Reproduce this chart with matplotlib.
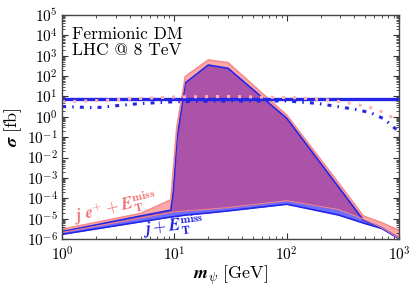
import numpy as np
import matplotlib
matplotlib.use("Agg")
import matplotlib.pyplot as plt
from matplotlib.ticker import FuncFormatter, LogLocator, NullFormatter

plt.rcParams["mathtext.fontset"] = "cm"
plt.rcParams["font.family"] = "cmr10"
plt.rcParams["axes.unicode_minus"] = False

# DM mass grid [GeV]
mass = [1, 5, 9.28, 9.8, 10.5, 12.5, 20, 30, 100, 290, 480, 700, 1000]

# j e+ + MET band [fb]
sig_e_hi = [3e-6, 1.8e-5, 8.3e-5, 3e-3, 0.3, 95, 620, 455, 1.2, 5.5e-4, 1.35e-5, 6.3e-6, 2.6e-6]
sig_e_lo = [2.1e-6, 1.07e-5, 2e-5, 2.1e-5, 2.2e-5, 2.4e-5, 2.9e-5, 3.5e-5, 7.6e-5, 2.8e-5, 9.5e-6, 3.6e-6, 1.1e-6]

# j + MET band [fb]
sig_j_hi = [2.3e-6, 1.35e-5, 2.6e-5, 2.6e-4, 0.072, 46, 350, 242, 0.85, 3.5e-4, 8.6e-6, 3.6e-6, 1.08e-6]
sig_j_lo = [1.7e-6, 7e-6, 1.2e-5, 1.25e-5, 1.3e-5, 1.5e-5, 1.9e-5, 2.4e-5, 5.1e-5, 1.5e-5, 6.1e-6, 3.3e-6, 1.05e-6]

# limits
lim_flat = 7.3
lim_e_mass = [1, 2, 5, 10, 30, 120, 250, 420, 630, 800, 950]
lim_e = [5.5, 6.2, 8.0, 9.5, 10.0, 8.7, 6.5, 4.1, 2.4, 1.23, 0.7]
lim_j_mass = [1, 2, 3, 5, 10, 30, 100, 185, 330, 435, 570, 740, 920, 1000]
lim_j = [3.2, 2.8, 3.5, 4.5, 5.5, 6.0, 6.0, 4.6, 2.8, 2.2, 1.5, 0.78, 0.27, 0.2]

blue = "#2525e6"
pink = "#f58a8a"

fig = plt.figure(figsize=(4.17, 2.89), dpi=100)
ax = fig.add_axes([0.149, 0.173, 0.808, 0.775])

ax.fill_between(mass, sig_j_lo, sig_j_hi, color="#3c3cff", alpha=0.75, lw=0)
ax.fill_between(mass, sig_e_lo, sig_e_hi, color="#ff3030", alpha=0.42, lw=0)
ax.plot(mass, sig_j_hi, color=blue, lw=1.2)
ax.plot(mass, sig_j_lo, color=blue, lw=1.2)
ax.plot(mass, sig_e_hi, color=pink, lw=1.2)
ax.plot(mass, sig_e_lo, color=pink, lw=0.7)

ax.axhline(lim_flat, color=blue, lw=2.4)
ax.plot(lim_e_mass, lim_e, color="#ffb0b0", lw=2.2, ls=(0, (1.0, 2.6)))
ax.plot(lim_j_mass, lim_j, color=blue, lw=2.2, ls=(0, (1.3, 2.0, 0.5, 2.0)))

ax.set_xscale("log")
ax.set_yscale("log")
ax.set_xlim(1, 1000)
ax.set_ylim(1e-6, 1e5)

fmt = FuncFormatter(lambda v, p: r"$10^{%d}$" % int(round(np.log10(v))))
ax.xaxis.set_major_formatter(fmt)
ax.yaxis.set_major_formatter(fmt)
ax.yaxis.set_major_locator(LogLocator(base=10, numticks=20))
ax.yaxis.set_minor_locator(LogLocator(base=10, subs=np.arange(2, 10), numticks=20))
ax.yaxis.set_minor_formatter(NullFormatter())
ax.tick_params(which="both", direction="in", top=True, right=True, labelsize=11, colors="#333333")
ax.tick_params(which="major", length=4, width=0.8)
ax.tick_params(which="minor", length=2, width=0.6)
ax.tick_params(axis="x", which="major", pad=4.5)
ax.tick_params(axis="y", which="major", pad=3)
for s in ax.spines.values():
    s.set_color("#444444")
    s.set_linewidth(1.0)
for lab in ax.get_xticklabels() + ax.get_yticklabels():
    lab.set_color("black")

ax.set_xlabel(r"$\mathbfit{m}_{\psi}\ \mathrm{[GeV]}$", fontsize=13, labelpad=0)
ax.set_ylabel(r"$\mathbfit{\sigma}\ \mathrm{[fb]}$", fontsize=13, labelpad=2)

ax.text(0.03, 0.95, "Fermionic DM\nLHC @ 8 TeV", transform=ax.transAxes,
        fontsize=12.5, va="top", ha="left", linespacing=1.1)

ax.text(2.95, 3.3e-5, r"$\mathbfit{j}\ \mathbfit{e}^{+}+\mathbfit{E}_{\mathbf{T}}^{\mathbf{miss}}$",
        color="#f07070", fontsize=12, rotation=13, ha="center", va="center")
ax.text(9.7, 3.9e-6, r"$\mathbfit{j}+\mathbfit{E}_{\mathbf{T}}^{\mathbf{miss}}$",
        color="#1a1ae6", fontsize=12, rotation=7, ha="center", va="center")

fig.savefig("out.png", dpi=100)
